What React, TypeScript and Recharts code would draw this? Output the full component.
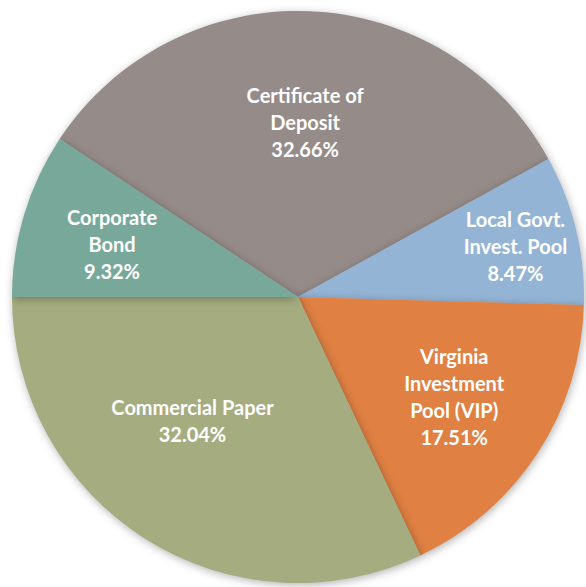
import React from 'react';
import { PieChart, Pie, Cell } from 'recharts';

const CATEGORIES = [
  'Certificate of Deposit',
  'Local Govt. Invest. Pool',
  'Virginia Investment Pool (VIP)',
  'Commercial Paper',
  'Corporate Bond',
];
const SHARES = [32.66, 8.47, 17.51, 32.04, 9.32];
const LABEL_LINES = [
  ['Certificate of', 'Deposit'],
  ['Local Govt.', 'Invest. Pool'],
  ['Virginia', 'Investment', 'Pool (VIP)'],
  ['Commercial Paper'],
  ['Corporate', 'Bond'],
];

const COLORS = ['#958B89', '#94B4D6', '#E08143', '#A4AC80', '#78A89A'];
// label placement: fraction of radius, angle nudge (deg)
const LABEL_POS = [
  { r: 0.61, da: 0 },
  { r: 0.78, da: -0.7 },
  { r: 0.65, da: 0.3 },
  { r: 0.57, da: -8 },
  { r: 0.675, da: 1.2 },
];

const data = CATEGORIES.map((name, i) => ({ name, value: SHARES[i] }));

const RADIAN = Math.PI / 180;
const LINE_H = 27;

const renderLabel = (props: any) => {
  const { cx, cy, midAngle, outerRadius, index } = props;
  const pos = LABEL_POS[index];
  const a = (midAngle + pos.da) * RADIAN;
  const x = cx + outerRadius * pos.r * Math.cos(a);
  const y = cy - outerRadius * pos.r * Math.sin(a);
  const lines = [...LABEL_LINES[index], `${SHARES[index].toFixed(2)}%`];
  const top = y - ((lines.length - 1) * LINE_H) / 2;
  return (
    <text
      key={`lbl-${index}`}
      x={x}
      y={top}
      fill="#ffffff"
      textAnchor="middle"
      fontFamily="Lato, 'Open Sans', sans-serif"
      fontWeight={700}
      fontSize={20}
    >
      {lines.map((l, i) => (
        <tspan key={i} x={x} y={top + i * LINE_H} dy={7}>
          {l}
        </tspan>
      ))}
    </text>
  );
};

const App: React.FC = () => {
  return (
    <div style={{ width: 586, height: 587, overflow: 'hidden', background: '#fff' }}>
      <style>{'body{margin:0;overflow:hidden}'}</style>
      <PieChart width={586} height={587} margin={{ top: 0, right: 0, bottom: 0, left: 0 }}>
        <Pie
          data={data}
          dataKey="value"
          nameKey="name"
          cx={298}
          cy={297}
          outerRadius={286}
          startAngle={146.45}
          endAngle={-213.55}
          stroke="none"
          label={renderLabel}
          labelLine={false}
          isAnimationActive={false}
          style={{ filter: 'drop-shadow(1px 2px 4px rgba(0,0,0,0.3))' }}
        >
          {data.map((d, idx) => (
            <Cell key={d.name} fill={COLORS[idx]} />
          ))}
        </Pie>
      </PieChart>
    </div>
  );
};

export default App;
